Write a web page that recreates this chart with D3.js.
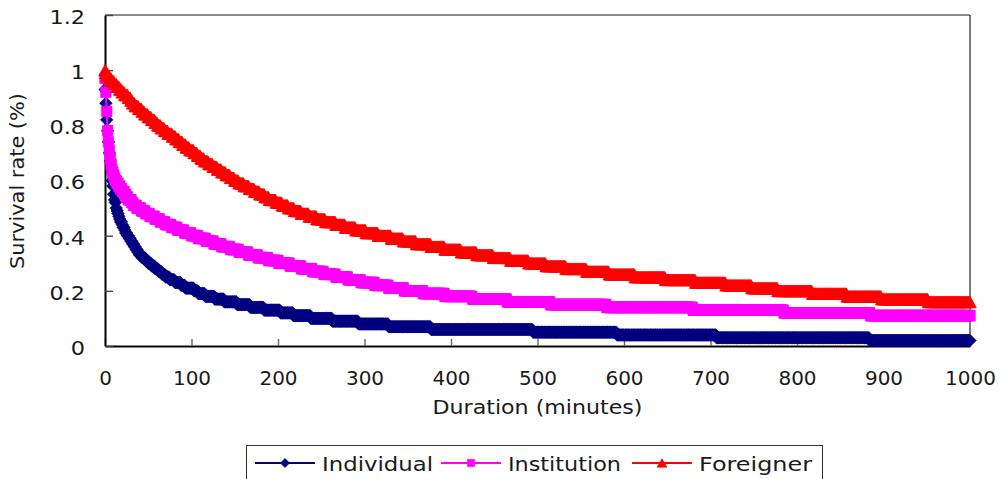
<!DOCTYPE html>
<html>
<head>
<meta charset="utf-8">
<script src="https://cdn.jsdelivr.net/npm/d3@7"></script>
<style>
  html, body { margin: 0; padding: 0; background: #fff; }
  svg { display: block; }
  text { font-family: "DejaVu Sans", sans-serif; fill: #1a1a1a; }
</style>
</head>
<body>
<svg id="chart" width="1001" height="479"></svg>
<script>
// Survival rates are recorded per minute, rounded to 0.01. Each series is kept as
// the minute at which the rate steps to a new level, and that level.
const individualStepMinutes = [
  0, 1, 2, 3, 4, 5, 6, 7, 8, 9, 10, 11, 12, 13, 14, 15, 16, 17, 18, 20,
  21, 23, 24, 26, 28, 30, 32, 34, 36, 38, 40, 43, 47, 50, 54, 58, 62, 66, 70, 75,
  81, 88, 93, 103, 108, 116, 127, 138, 153, 168, 184, 203, 218, 238, 263, 293, 328, 377, 495, 592,
  707, 884
];
const individualStepValues = [
  0.93, 0.88, 0.82, 0.78, 0.74, 0.70, 0.67, 0.63, 0.60, 0.58, 0.55, 0.53, 0.52, 0.50, 0.49, 0.48, 0.47, 0.46, 0.45, 0.44,
  0.43, 0.42, 0.41, 0.40, 0.39, 0.38, 0.37, 0.36, 0.35, 0.34, 0.33, 0.32, 0.31, 0.30, 0.29, 0.28, 0.27, 0.26, 0.25, 0.24,
  0.23, 0.22, 0.21, 0.20, 0.19, 0.18, 0.17, 0.16, 0.15, 0.14, 0.13, 0.12, 0.11, 0.10, 0.09, 0.08, 0.07, 0.06, 0.05, 0.04,
  0.03, 0.02
];

const institutionStepMinutes = [
  0, 1, 2, 3, 4, 5, 6, 7, 8, 9, 10, 11, 12, 14, 16, 18, 20, 23, 25, 27,
  31, 33, 37, 42, 47, 52, 58, 64, 70, 77, 84, 92, 100, 108, 117, 126, 135, 145, 155, 166,
  177, 189, 201, 214, 227, 240, 253, 267, 281, 296, 312, 328, 346, 368, 393, 425, 465, 515, 580, 680,
  785, 885
];
const institutionStepValues = [
  0.97, 0.92, 0.85, 0.78, 0.74, 0.71, 0.68, 0.66, 0.64, 0.63, 0.62, 0.61, 0.60, 0.59, 0.58, 0.57, 0.56, 0.55, 0.54, 0.53,
  0.52, 0.51, 0.50, 0.49, 0.48, 0.47, 0.46, 0.45, 0.44, 0.43, 0.42, 0.41, 0.40, 0.39, 0.38, 0.37, 0.36, 0.35, 0.34, 0.33,
  0.32, 0.31, 0.30, 0.29, 0.28, 0.27, 0.26, 0.25, 0.24, 0.23, 0.22, 0.21, 0.20, 0.19, 0.18, 0.17, 0.16, 0.15, 0.14, 0.13,
  0.12, 0.11
];

const foreignerStepMinutes = [
  0, 1, 3, 5, 8, 11, 14, 17, 20, 23, 27, 30, 32, 35, 39, 43, 46, 50, 54, 58,
  61, 65, 69, 73, 78, 82, 86, 90, 94, 98, 103, 107, 111, 115, 120, 125, 130, 135, 140, 145,
  150, 155, 161, 167, 173, 179, 185, 190, 198, 205, 212, 219, 227, 236, 245, 255, 267, 278, 290, 302,
  316, 331, 345, 360, 377, 393, 412, 430, 449, 469, 490, 510, 533, 557, 583, 613, 648, 683, 718, 748,
  778, 818, 858, 898, 952
];
const foreignerStepValues = [
  1.00, 0.99, 0.98, 0.97, 0.96, 0.95, 0.94, 0.93, 0.92, 0.91, 0.90, 0.89, 0.88, 0.87, 0.86, 0.85, 0.84, 0.83, 0.82, 0.81,
  0.80, 0.79, 0.78, 0.77, 0.76, 0.75, 0.74, 0.73, 0.72, 0.71, 0.70, 0.69, 0.68, 0.67, 0.66, 0.65, 0.64, 0.63, 0.62, 0.61,
  0.60, 0.59, 0.58, 0.57, 0.56, 0.55, 0.54, 0.53, 0.52, 0.51, 0.50, 0.49, 0.48, 0.47, 0.46, 0.45, 0.44, 0.43, 0.42, 0.41,
  0.40, 0.39, 0.38, 0.37, 0.36, 0.35, 0.34, 0.33, 0.32, 0.31, 0.30, 0.29, 0.28, 0.27, 0.26, 0.25, 0.24, 0.23, 0.22, 0.21,
  0.20, 0.19, 0.18, 0.17, 0.16
];

const seriesNames = ["Individual", "Institution", "Foreigner"];
const xTicks = [0, 100, 200, 300, 400, 500, 600, 700, 800, 900, 1000];
const xTickLabels = ["0", "100", "200", "300", "400", "500", "600", "700", "800", "900", "1000"];
const yTicks = [0, 0.2, 0.4, 0.6, 0.8, 1, 1.2];
const yTickLabels = ["0", "0.2", "0.4", "0.6", "0.8", "1", "1.2"];
const xTitle = "Duration (minutes)";
const yTitle = "Survival rate (%)";

// Observation minutes 0..1000
const minutes = d3.range(0, 1001);

// Rate in force at each minute, taken from the step table
function perMinute(stepMinutes, stepValues) {
  const at = d3.bisector(d => d).right;
  return minutes.map(m => stepValues[at(stepMinutes, m) - 1]);
}

const seriesValues = {
  Individual: perMinute(individualStepMinutes, individualStepValues),
  Institution: perMinute(institutionStepMinutes, institutionStepValues),
  Foreigner: perMinute(foreignerStepMinutes, foreignerStepValues)
};

// ---- layout & style ----
const plot = { left: 105, right: 970, top: 15, bottom: 346 };
const colors = { Individual: "#000080", Institution: "#ff00ff", Foreigner: "#ff0000" };

function diamond(s) { return `M0,${-s}L${s},0L0,${s}L${-s},0Z`; }
function square(s) { return `M${-s},${-s}H${s}V${s}H${-s}Z`; }
function triangle(w, h) { return `M0,${-h / 2}L${w / 2},${h / 2}L${-w / 2},${h / 2}Z`; }

const markerPath = {
  Individual: diamond(6.3),
  Institution: square(5.3),
  Foreigner: triangle(12.8, 11.6)
};
const legendMarkerPath = {
  Individual: diamond(4.6),
  Institution: square(3.6),
  Foreigner: triangle(10, 8.4)
};

const svg = d3.select("#chart");

const x = d3.scaleLinear().domain([0, 1000]).range([plot.left, plot.right]);
const y = d3.scaleLinear().domain([0, 1.2]).range([plot.bottom, plot.top]);

// Frame: top (grey) and right border
svg.append("line")
  .attr("x1", plot.left).attr("x2", plot.right)
  .attr("y1", plot.top).attr("y2", plot.top)
  .attr("stroke", "#8a8a8a").attr("stroke-width", 2);
svg.append("line")
  .attr("x1", plot.right).attr("x2", plot.right)
  .attr("y1", plot.top).attr("y2", plot.bottom)
  .attr("stroke", "#222").attr("stroke-width", 1.2);

// X axis
const xAxis = svg.append("g")
  .attr("transform", `translate(0,${plot.bottom})`)
  .call(d3.axisBottom(x)
    .tickValues(xTicks)
    .tickFormat((d, i) => xTickLabels[i])
    .tickSizeInner(-7).tickSizeOuter(0).tickPadding(25));
xAxis.select(".domain").attr("stroke", "#000").attr("stroke-width", 2);
xAxis.selectAll(".tick line").attr("stroke", "#666").attr("stroke-width", 1.4);
xAxis.selectAll(".tick text")
  .attr("font-size", 20).attr("font-family", "DejaVu Sans").attr("fill", "#1a1a1a");

// Y axis
const yAxis = svg.append("g")
  .attr("transform", `translate(${plot.left},0)`)
  .call(d3.axisLeft(y)
    .tickValues(yTicks)
    .tickFormat((d, i) => yTickLabels[i])
    .tickSizeInner(-8).tickSizeOuter(0).tickPadding(20));
yAxis.select(".domain").attr("stroke", "#000").attr("stroke-width", 2);
yAxis.selectAll(".tick line").attr("stroke", "#444").attr("stroke-width", 1.4);
yAxis.selectAll(".tick text")
  .attr("font-size", 20).attr("font-family", "DejaVu Sans").attr("fill", "#1a1a1a")
  .attr("dy", "0.42em")
  .each(function () {
    // slightly wider figures for the value labels
    const w = this.getComputedTextLength();
    d3.select(this).attr("textLength", w * 1.12).attr("lengthAdjust", "spacingAndGlyphs");
  });

// Axis titles
svg.append("text")
  .attr("x", (plot.left + plot.right) / 2).attr("y", 414)
  .attr("text-anchor", "middle").attr("font-size", 19)
  .attr("textLength", 210).attr("lengthAdjust", "spacingAndGlyphs")
  .text(xTitle);
svg.append("text")
  .attr("transform", "translate(24,181) rotate(-90)")
  .attr("text-anchor", "middle").attr("font-size", 19)
  .attr("textLength", 176).attr("lengthAdjust", "spacingAndGlyphs")
  .text(yTitle);

// Series: connecting line under one marker per minute
const line = d3.line().x((d, i) => x(minutes[i])).y(d => y(d));

seriesNames.forEach(name => {
  const vals = seriesValues[name];
  const g = svg.append("g").attr("class", "series");
  g.append("path")
    .attr("d", line(vals))
    .attr("fill", "none").attr("stroke", colors[name]).attr("stroke-width", 2);
  g.selectAll("path.marker")
    .data(vals)
    .join("path")
    .attr("class", "marker")
    .attr("d", markerPath[name])
    .attr("transform", (d, i) => `translate(${x(minutes[i])},${y(d)})`)
    .attr("fill", colors[name])
    .attr("stroke", colors[name]).attr("stroke-width", 0.6);
});

// Legend
const legend = svg.append("g");
legend.append("rect")
  .attr("x", 246.5).attr("y", 445.5).attr("width", 576).attr("height", 40)
  .attr("fill", "#fff").attr("stroke", "#333").attr("stroke-width", 1);

const legendStart = [255, 441, 632];
const legendTextLen = [111, 113, 113];
seriesNames.forEach((name, i) => {
  const x0 = legendStart[i];
  legend.append("line")
    .attr("x1", x0).attr("x2", x0 + 60).attr("y1", 463).attr("y2", 463)
    .attr("stroke", colors[name]).attr("stroke-width", 2);
  legend.append("path")
    .attr("d", legendMarkerPath[name])
    .attr("transform", `translate(${x0 + 30},463)`)
    .attr("fill", colors[name]).attr("stroke", colors[name]).attr("stroke-width", 0.6);
  legend.append("text")
    .attr("x", x0 + 67).attr("y", 471)
    .attr("font-size", 20)
    .attr("textLength", legendTextLen[i]).attr("lengthAdjust", "spacingAndGlyphs")
    .text(name);
});
</script>
</body>
</html>
